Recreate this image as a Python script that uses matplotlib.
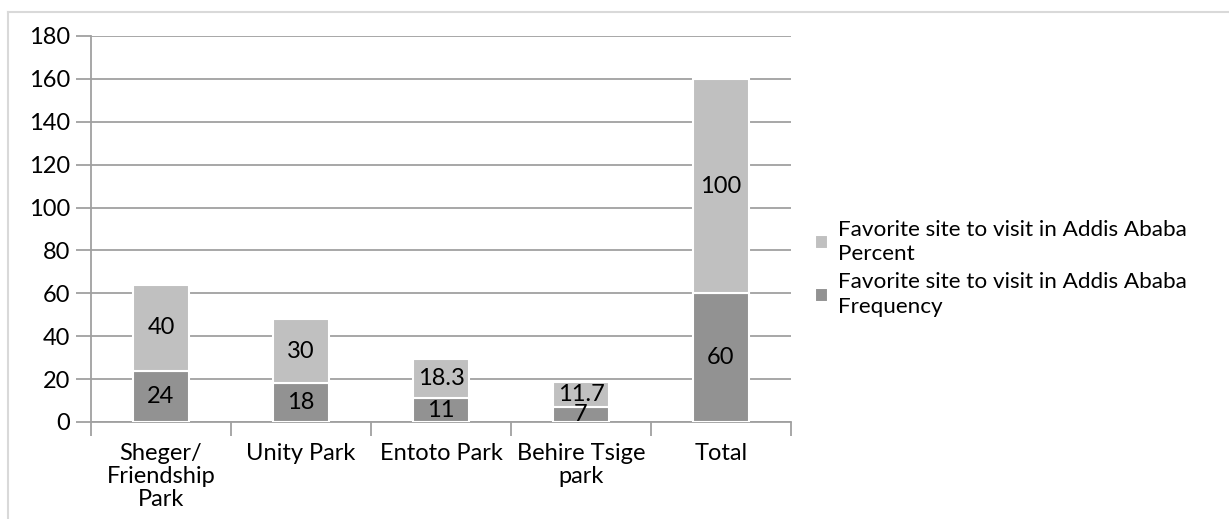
import matplotlib.pyplot as plt
from matplotlib.lines import Line2D
import numpy as np

sites = ["Sheger/\nFriendship\nPark", "Unity Park", "Entoto Park", "Behire Tsige\npark", "Total"]
frequency = [24, 18, 11, 7, 60]
percent = [40, 30, 18.3, 11.7, 100]
freq_label = "Favorite site to visit in Addis Ababa\nFrequency"
pct_label = "Favorite site to visit in Addis Ababa\nPercent"

plt.rcParams['font.family'] = ['Lato', 'DejaVu Sans']
plt.rcParams['font.size'] = 17

fig = plt.figure(figsize=(12.29, 5.19), dpi=100)
ax = fig.add_axes([91 / 1229, 97 / 519, 700 / 1229, 386 / 519])

x = np.arange(len(sites))
dark = "#929292"
light = "#c0c0c0"

b1 = ax.bar(x, frequency, width=0.4, color=dark, edgecolor="white", linewidth=1.5,
            label=freq_label, zorder=3)
b2 = ax.bar(x, percent, width=0.4, bottom=frequency, color=light, edgecolor="white",
            linewidth=1.5, label=pct_label, zorder=3)

for i in range(len(sites)):
    ax.text(x[i], frequency[i] / 2, str(frequency[i]), ha="center", va="center", zorder=4)
    ax.text(x[i], frequency[i] + percent[i] / 2, f"{percent[i]:g}", ha="center", va="center", zorder=4)

ax.set_xlim(-0.5, len(sites) - 0.5)
ax.set_ylim(0, 180)
ax.set_yticks(range(0, 181, 20))
ax.grid(axis="y", color="#a0a0a0", linewidth=1.3, zorder=0)
ax.set_axisbelow(True)

ax.set_xticks(x)
ax.set_xticklabels(sites, linespacing=1.12)
ax.set_xticks(np.arange(-0.5, len(sites), 1), minor=True)
ax.tick_params(axis="x", which="major", length=0, pad=15)
ax.tick_params(axis="x", which="minor", length=10, width=1.3, color="#a0a0a0")
ax.tick_params(axis="y", length=11, width=1.3, color="#a0a0a0", pad=4)

for s in ["top", "right"]:
    ax.spines[s].set_visible(False)
for s in ["left", "bottom"]:
    ax.spines[s].set_color("#a0a0a0")
    ax.spines[s].set_linewidth(1.3)

handles = [b2, b1]
leg = ax.legend(handles, [pct_label, freq_label], loc="center left", bbox_to_anchor=(1.005, 0.398),
                frameon=False, handlelength=0.6, handleheight=0.6, handletextpad=0.45,
                labelspacing=0.35, fontsize=16.2)
for t in leg.get_texts():
    t.set_linespacing(1.3)

fig.add_artist(Line2D([8 / 1229, 1], [1 - 12 / 519, 1 - 12 / 519], color="#d9d9d9", lw=1.5))
fig.add_artist(Line2D([8 / 1229, 8 / 1229], [0, 1 - 12 / 519], color="#d9d9d9", lw=1.5))

fig.savefig("out.png", dpi=100)
